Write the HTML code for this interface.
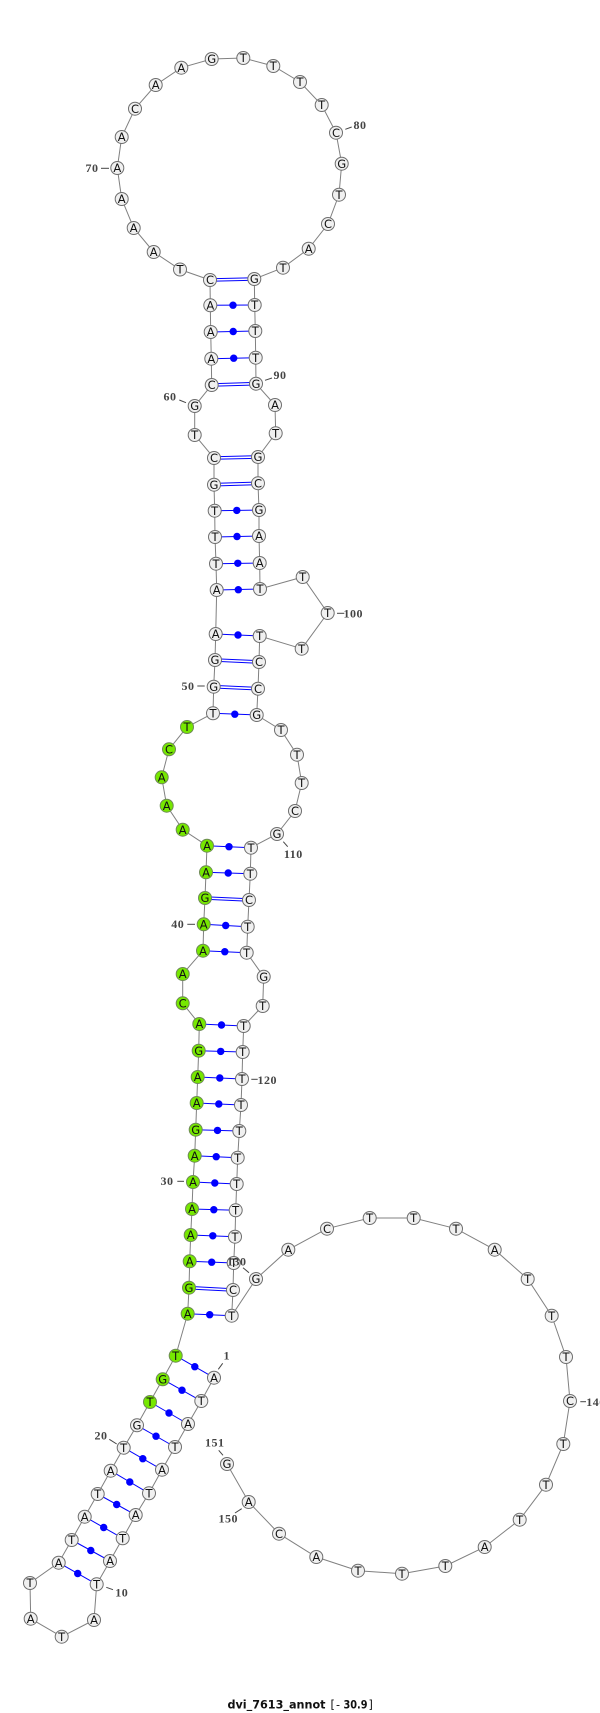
<!DOCTYPE html>
<html><head><meta charset="utf-8"><title>dvi_7613_annot</title>
<style>
html,body{margin:0;padding:0;background:#fff}
svg{display:block}
.b{fill:none;stroke:#808080;stroke-width:1}
.p line{stroke:#0000ff;stroke-width:1}
.p circle{fill:#0000ff}
.n circle{fill:#f0f0f0;stroke:#6e6e6e;stroke-width:1}
.n circle.g{fill:#76e800;stroke:#6e8a55}
.n text{font:11.5px "DejaVu Sans",sans-serif;text-anchor:middle;fill:#111}
.t line{stroke:#444;stroke-width:1}
.t text{font:bold 12px "Liberation Serif",serif;letter-spacing:.5px;text-anchor:middle;fill:#444}
</style></head><body>
<svg xmlns="http://www.w3.org/2000/svg" width="600" height="1713" viewBox="0 0 600 1713">
<rect width="600" height="1713" fill="#fff"/>
<polyline class="b" points="214,1377.7 201.3,1401 188,1424 175,1447 162,1469.7 149,1493.3 135.7,1515 122.7,1538.3 110,1561 96.7,1584.3 94,1620 61.7,1636.7 30.7,1618.7 30,1583 58.7,1562.7 71.7,1540 84.7,1516.7 97.7,1494 110.7,1470.7 123.7,1447.7 137,1425.3 150,1402 162.7,1379.3 175.7,1355.7 187.7,1313.7 189,1287.7 189.7,1261.3 190.7,1235 192,1209 193,1182 194.7,1155.7 195.7,1129.7 196.7,1103 197.7,1077 198.7,1050.7 199.3,1024 182.7,1003.3 182.7,974 203,950.7 203.7,924.3 205,898 206,872.3 207,845.7 182.7,829.7 166.7,805.7 161.7,777.3 169,749.3 187,727 213,713.3 213.7,686.7 215,660 215.7,634 216.7,590 216,563.7 215,537 214.7,510.7 214,484.7 214,458 194.7,435 194.7,406 211.7,385 211.3,358.7 210.7,332 210.3,305.3 210,280 180,269.5 153.7,252 133.7,228 121.7,199 117.3,168 121.7,137 135,108.7 155.7,85 181.3,67.7 211.7,59 243.3,58 273.3,66 300,82 321.7,105 336,132.7 341.7,163.7 339,194.7 328,224 308.7,248.7 283,267.7 254.3,279 254.7,305 255.3,331 255.7,357.7 256,383.7 275,405 275.7,433.3 258,457 258,483.3 259,510 259,536 259.7,563 260,589 302.7,577 327.7,613 301.7,648.7 259.7,636 259,662 258,688.7 256.7,715 281,730 297,754.7 301.7,783 295,811 277,834 251,847.7 250.3,873.7 249,900 247.7,926.7 246.7,952.7 263.7,976.7 262.7,1006 243.7,1026 242.7,1052 242,1079 241,1105 239.3,1131 237.7,1157.7 236.7,1184 235.7,1210.3 235,1236.7 233.7,1263 233,1290 231.7,1315.7 256,1279 288.3,1249.7 327,1228.7 369.7,1218 413.7,1218 456,1228.7 494.7,1249.7 527.7,1279 551.7,1315.7 566,1357 570,1401 563.3,1444 546,1484.7 519.7,1519.7 484.7,1547 445.3,1566 402,1573.7 358,1570.7 316.3,1557 279,1533.7 248.7,1502 227,1464"/>
<g class="p">
<line x1="214" y1="1377.7" x2="175.7" y2="1355.7"/><circle cx="194.8" cy="1366.7" r="3.7"/>
<line x1="201.3" y1="1401" x2="162.7" y2="1379.3"/><circle cx="182" cy="1390.2" r="3.7"/>
<line x1="188" y1="1424" x2="150" y2="1402"/><circle cx="169" cy="1413" r="3.7"/>
<line x1="175" y1="1447" x2="137" y2="1425.3"/><circle cx="156" cy="1436.2" r="3.7"/>
<line x1="162" y1="1469.7" x2="123.7" y2="1447.7"/><circle cx="142.8" cy="1458.7" r="3.7"/>
<line x1="149" y1="1493.3" x2="110.7" y2="1470.7"/><circle cx="129.8" cy="1482" r="3.7"/>
<line x1="135.7" y1="1515" x2="97.7" y2="1494"/><circle cx="116.7" cy="1504.5" r="3.7"/>
<line x1="122.7" y1="1538.3" x2="84.7" y2="1516.7"/><circle cx="103.7" cy="1527.5" r="3.7"/>
<line x1="110" y1="1561" x2="71.7" y2="1540"/><circle cx="90.8" cy="1550.5" r="3.7"/>
<line x1="96.7" y1="1584.3" x2="58.7" y2="1562.7"/><circle cx="77.7" cy="1573.5" r="3.7"/>
<line x1="187.7" y1="1313.7" x2="231.7" y2="1315.7"/><circle cx="209.7" cy="1314.7" r="3.7"/>
<line x1="189" y1="1286.4" x2="233" y2="1288.7"/><line x1="189" y1="1289" x2="233" y2="1291.3"/>
<line x1="189.7" y1="1261.3" x2="233.7" y2="1263"/><circle cx="211.7" cy="1262.2" r="3.7"/>
<line x1="190.7" y1="1235" x2="235" y2="1236.7"/><circle cx="212.8" cy="1235.8" r="3.7"/>
<line x1="192" y1="1209" x2="235.7" y2="1210.3"/><circle cx="213.8" cy="1209.7" r="3.7"/>
<line x1="193" y1="1182" x2="236.7" y2="1184"/><circle cx="214.8" cy="1183" r="3.7"/>
<line x1="194.7" y1="1155.7" x2="237.7" y2="1157.7"/><circle cx="216.2" cy="1156.7" r="3.7"/>
<line x1="195.7" y1="1129.7" x2="239.3" y2="1131"/><circle cx="217.5" cy="1130.4" r="3.7"/>
<line x1="196.7" y1="1103" x2="241" y2="1105"/><circle cx="218.8" cy="1104" r="3.7"/>
<line x1="197.7" y1="1077" x2="242" y2="1079"/><circle cx="219.8" cy="1078" r="3.7"/>
<line x1="198.7" y1="1050.7" x2="242.7" y2="1052"/><circle cx="220.7" cy="1051.4" r="3.7"/>
<line x1="199.3" y1="1024" x2="243.7" y2="1026"/><circle cx="221.5" cy="1025" r="3.7"/>
<line x1="203" y1="950.7" x2="246.7" y2="952.7"/><circle cx="224.8" cy="951.7" r="3.7"/>
<line x1="203.7" y1="924.3" x2="247.7" y2="926.7"/><circle cx="225.7" cy="925.5" r="3.7"/>
<line x1="205" y1="896.7" x2="249" y2="898.7"/><line x1="205" y1="899.3" x2="249" y2="901.3"/>
<line x1="206" y1="872.3" x2="250.3" y2="873.7"/><circle cx="228.2" cy="873" r="3.7"/>
<line x1="207" y1="845.7" x2="251" y2="847.7"/><circle cx="229" cy="846.7" r="3.7"/>
<line x1="213" y1="713.3" x2="256.7" y2="715"/><circle cx="234.8" cy="714.2" r="3.7"/>
<line x1="213.7" y1="685.4" x2="258" y2="687.4"/><line x1="213.7" y1="688" x2="258" y2="690"/>
<line x1="215" y1="658.7" x2="259" y2="660.7"/><line x1="215" y1="661.3" x2="259" y2="663.3"/>
<line x1="215.7" y1="634" x2="259.7" y2="636"/><circle cx="238" cy="635" r="3.7"/>
<line x1="216.7" y1="590" x2="260" y2="589"/><circle cx="238.3" cy="589.7" r="3.7"/>
<line x1="216" y1="563.7" x2="259.7" y2="563"/><circle cx="237.8" cy="563.3" r="3.7"/>
<line x1="215" y1="537" x2="259" y2="536"/><circle cx="237" cy="536.5" r="3.7"/>
<line x1="214.7" y1="510.7" x2="259" y2="510"/><circle cx="236.8" cy="510.4" r="3.7"/>
<line x1="214" y1="483.4" x2="258" y2="482"/><line x1="214" y1="486" x2="258" y2="484.6"/>
<line x1="214" y1="456.7" x2="258" y2="455.7"/><line x1="214" y1="459.3" x2="258" y2="458.3"/>
<line x1="211.7" y1="383.7" x2="256" y2="382.4"/><line x1="211.7" y1="386.3" x2="256" y2="385"/>
<line x1="211.3" y1="358.7" x2="255.7" y2="357.7"/><circle cx="233.7" cy="358.2" r="3.7"/>
<line x1="210.7" y1="332" x2="255.3" y2="331"/><circle cx="233.2" cy="331.5" r="3.7"/>
<line x1="210.3" y1="305.3" x2="254.7" y2="305"/><circle cx="233" cy="305.2" r="3.7"/>
<line x1="210" y1="278.7" x2="254.3" y2="277.7"/><line x1="210" y1="281.3" x2="254.3" y2="280.3"/>
</g>
<g class="t">
<line x1="222.7" y1="1363.3" x2="218.3" y2="1369.3"/><text x="226.7" y="1359.3">1</text>
<line x1="106.3" y1="1587.3" x2="113" y2="1589.7"/><text x="121.7" y="1596.3">10</text>
<line x1="109.3" y1="1439.3" x2="116.7" y2="1444"/><text x="101" y="1439.3">20</text>
<line x1="177.3" y1="1181.3" x2="184" y2="1181.3"/><text x="167" y="1185">30</text>
<line x1="187.3" y1="924.3" x2="195" y2="924.3"/><text x="177.7" y="928">40</text>
<line x1="197.3" y1="686" x2="204.7" y2="686"/><text x="188" y="690">50</text>
<line x1="179.3" y1="400" x2="186" y2="402.7"/><text x="170" y="400.7">60</text>
<line x1="101" y1="168.3" x2="109" y2="168.3"/><text x="92" y="172">70</text>
<line x1="345.3" y1="129.3" x2="351.7" y2="127"/><text x="360" y="129">80</text>
<line x1="265" y1="380.3" x2="272" y2="378"/><text x="280" y="379">90</text>
<line x1="337" y1="613.3" x2="344.3" y2="613.3"/><text x="353.3" y="617.3">100</text>
<line x1="283.3" y1="841.7" x2="287.7" y2="846.7"/><text x="293.3" y="858">110</text>
<line x1="251.3" y1="1079.3" x2="257.7" y2="1079.3"/><text x="267.3" y="1084">120</text>
<line x1="580.3" y1="1401.7" x2="586" y2="1401.7"/><text x="596" y="1406">140</text>
<line x1="235" y1="1513" x2="241.7" y2="1508.7"/><text x="228.3" y="1522.3">150</text>
<line x1="218.7" y1="1450.3" x2="223" y2="1455.3"/><text x="214.7" y="1446.3">151</text>
</g>
<g class="n">
<circle cx="214" cy="1377.7" r="6.5"/><text x="214" y="1381.8">A</text>
<circle cx="201.3" cy="1401" r="6.5"/><text x="201.3" y="1405.1">T</text>
<circle cx="188" cy="1424" r="6.5"/><text x="188" y="1428.1">A</text>
<circle cx="175" cy="1447" r="6.5"/><text x="175" y="1451.1">T</text>
<circle cx="162" cy="1469.7" r="6.5"/><text x="162" y="1473.8">A</text>
<circle cx="149" cy="1493.3" r="6.5"/><text x="149" y="1497.4">T</text>
<circle cx="135.7" cy="1515" r="6.5"/><text x="135.7" y="1519.1">A</text>
<circle cx="122.7" cy="1538.3" r="6.5"/><text x="122.7" y="1542.4">T</text>
<circle cx="110" cy="1561" r="6.5"/><text x="110" y="1565.1">A</text>
<circle cx="96.7" cy="1584.3" r="6.5"/><text x="96.7" y="1588.4">T</text>
<circle cx="94" cy="1620" r="6.5"/><text x="94" y="1624.1">A</text>
<circle cx="61.7" cy="1636.7" r="6.5"/><text x="61.7" y="1640.8">T</text>
<circle cx="30.7" cy="1618.7" r="6.5"/><text x="30.7" y="1622.8">A</text>
<circle cx="30" cy="1583" r="6.5"/><text x="30" y="1587.1">T</text>
<circle cx="58.7" cy="1562.7" r="6.5"/><text x="58.7" y="1566.8">A</text>
<circle cx="71.7" cy="1540" r="6.5"/><text x="71.7" y="1544.1">T</text>
<circle cx="84.7" cy="1516.7" r="6.5"/><text x="84.7" y="1520.8">A</text>
<circle cx="97.7" cy="1494" r="6.5"/><text x="97.7" y="1498.1">T</text>
<circle cx="110.7" cy="1470.7" r="6.5"/><text x="110.7" y="1474.8">A</text>
<circle cx="123.7" cy="1447.7" r="6.5"/><text x="123.7" y="1451.8">T</text>
<circle cx="137" cy="1425.3" r="6.5"/><text x="137" y="1429.4">G</text>
<circle class="g" cx="150" cy="1402" r="6.5"/><text x="150" y="1406.1">T</text>
<circle class="g" cx="162.7" cy="1379.3" r="6.5"/><text x="162.7" y="1383.4">G</text>
<circle class="g" cx="175.7" cy="1355.7" r="6.5"/><text x="175.7" y="1359.8">T</text>
<circle class="g" cx="187.7" cy="1313.7" r="6.5"/><text x="187.7" y="1317.8">A</text>
<circle class="g" cx="189" cy="1287.7" r="6.5"/><text x="189" y="1291.8">G</text>
<circle class="g" cx="189.7" cy="1261.3" r="6.5"/><text x="189.7" y="1265.4">A</text>
<circle class="g" cx="190.7" cy="1235" r="6.5"/><text x="190.7" y="1239.1">A</text>
<circle class="g" cx="192" cy="1209" r="6.5"/><text x="192" y="1213.1">A</text>
<circle class="g" cx="193" cy="1182" r="6.5"/><text x="193" y="1186.1">A</text>
<circle class="g" cx="194.7" cy="1155.7" r="6.5"/><text x="194.7" y="1159.8">A</text>
<circle class="g" cx="195.7" cy="1129.7" r="6.5"/><text x="195.7" y="1133.8">G</text>
<circle class="g" cx="196.7" cy="1103" r="6.5"/><text x="196.7" y="1107.1">A</text>
<circle class="g" cx="197.7" cy="1077" r="6.5"/><text x="197.7" y="1081.1">A</text>
<circle class="g" cx="198.7" cy="1050.7" r="6.5"/><text x="198.7" y="1054.8">G</text>
<circle class="g" cx="199.3" cy="1024" r="6.5"/><text x="199.3" y="1028.1">A</text>
<circle class="g" cx="182.7" cy="1003.3" r="6.5"/><text x="182.7" y="1007.4">C</text>
<circle class="g" cx="182.7" cy="974" r="6.5"/><text x="182.7" y="978.1">A</text>
<circle class="g" cx="203" cy="950.7" r="6.5"/><text x="203" y="954.8">A</text>
<circle class="g" cx="203.7" cy="924.3" r="6.5"/><text x="203.7" y="928.4">A</text>
<circle class="g" cx="205" cy="898" r="6.5"/><text x="205" y="902.1">G</text>
<circle class="g" cx="206" cy="872.3" r="6.5"/><text x="206" y="876.4">A</text>
<circle class="g" cx="207" cy="845.7" r="6.5"/><text x="207" y="849.8">A</text>
<circle class="g" cx="182.7" cy="829.7" r="6.5"/><text x="182.7" y="833.8">A</text>
<circle class="g" cx="166.7" cy="805.7" r="6.5"/><text x="166.7" y="809.8">A</text>
<circle class="g" cx="161.7" cy="777.3" r="6.5"/><text x="161.7" y="781.4">A</text>
<circle class="g" cx="169" cy="749.3" r="6.5"/><text x="169" y="753.4">C</text>
<circle class="g" cx="187" cy="727" r="6.5"/><text x="187" y="731.1">T</text>
<circle cx="213" cy="713.3" r="6.5"/><text x="213" y="717.4">T</text>
<circle cx="213.7" cy="686.7" r="6.5"/><text x="213.7" y="690.8">G</text>
<circle cx="215" cy="660" r="6.5"/><text x="215" y="664.1">G</text>
<circle cx="215.7" cy="634" r="6.5"/><text x="215.7" y="638.1">A</text>
<circle cx="216.7" cy="590" r="6.5"/><text x="216.7" y="594.1">A</text>
<circle cx="216" cy="563.7" r="6.5"/><text x="216" y="567.8">T</text>
<circle cx="215" cy="537" r="6.5"/><text x="215" y="541.1">T</text>
<circle cx="214.7" cy="510.7" r="6.5"/><text x="214.7" y="514.8">T</text>
<circle cx="214" cy="484.7" r="6.5"/><text x="214" y="488.8">G</text>
<circle cx="214" cy="458" r="6.5"/><text x="214" y="462.1">C</text>
<circle cx="194.7" cy="435" r="6.5"/><text x="194.7" y="439.1">T</text>
<circle cx="194.7" cy="406" r="6.5"/><text x="194.7" y="410.1">G</text>
<circle cx="211.7" cy="385" r="6.5"/><text x="211.7" y="389.1">C</text>
<circle cx="211.3" cy="358.7" r="6.5"/><text x="211.3" y="362.8">A</text>
<circle cx="210.7" cy="332" r="6.5"/><text x="210.7" y="336.1">A</text>
<circle cx="210.3" cy="305.3" r="6.5"/><text x="210.3" y="309.4">A</text>
<circle cx="210" cy="280" r="6.5"/><text x="210" y="284.1">C</text>
<circle cx="180" cy="269.5" r="6.5"/><text x="180" y="273.6">T</text>
<circle cx="153.7" cy="252" r="6.5"/><text x="153.7" y="256.1">A</text>
<circle cx="133.7" cy="228" r="6.5"/><text x="133.7" y="232.1">A</text>
<circle cx="121.7" cy="199" r="6.5"/><text x="121.7" y="203.1">A</text>
<circle cx="117.3" cy="168" r="6.5"/><text x="117.3" y="172.1">A</text>
<circle cx="121.7" cy="137" r="6.5"/><text x="121.7" y="141.1">A</text>
<circle cx="135" cy="108.7" r="6.5"/><text x="135" y="112.8">C</text>
<circle cx="155.7" cy="85" r="6.5"/><text x="155.7" y="89.1">A</text>
<circle cx="181.3" cy="67.7" r="6.5"/><text x="181.3" y="71.8">A</text>
<circle cx="211.7" cy="59" r="6.5"/><text x="211.7" y="63.1">G</text>
<circle cx="243.3" cy="58" r="6.5"/><text x="243.3" y="62.1">T</text>
<circle cx="273.3" cy="66" r="6.5"/><text x="273.3" y="70.1">T</text>
<circle cx="300" cy="82" r="6.5"/><text x="300" y="86.1">T</text>
<circle cx="321.7" cy="105" r="6.5"/><text x="321.7" y="109.1">T</text>
<circle cx="336" cy="132.7" r="6.5"/><text x="336" y="136.8">C</text>
<circle cx="341.7" cy="163.7" r="6.5"/><text x="341.7" y="167.8">G</text>
<circle cx="339" cy="194.7" r="6.5"/><text x="339" y="198.8">T</text>
<circle cx="328" cy="224" r="6.5"/><text x="328" y="228.1">C</text>
<circle cx="308.7" cy="248.7" r="6.5"/><text x="308.7" y="252.8">A</text>
<circle cx="283" cy="267.7" r="6.5"/><text x="283" y="271.8">T</text>
<circle cx="254.3" cy="279" r="6.5"/><text x="254.3" y="283.1">G</text>
<circle cx="254.7" cy="305" r="6.5"/><text x="254.7" y="309.1">T</text>
<circle cx="255.3" cy="331" r="6.5"/><text x="255.3" y="335.1">T</text>
<circle cx="255.7" cy="357.7" r="6.5"/><text x="255.7" y="361.8">T</text>
<circle cx="256" cy="383.7" r="6.5"/><text x="256" y="387.8">G</text>
<circle cx="275" cy="405" r="6.5"/><text x="275" y="409.1">A</text>
<circle cx="275.7" cy="433.3" r="6.5"/><text x="275.7" y="437.4">T</text>
<circle cx="258" cy="457" r="6.5"/><text x="258" y="461.1">G</text>
<circle cx="258" cy="483.3" r="6.5"/><text x="258" y="487.4">C</text>
<circle cx="259" cy="510" r="6.5"/><text x="259" y="514.1">G</text>
<circle cx="259" cy="536" r="6.5"/><text x="259" y="540.1">A</text>
<circle cx="259.7" cy="563" r="6.5"/><text x="259.7" y="567.1">A</text>
<circle cx="260" cy="589" r="6.5"/><text x="260" y="593.1">T</text>
<circle cx="302.7" cy="577" r="6.5"/><text x="302.7" y="581.1">T</text>
<circle cx="327.7" cy="613" r="6.5"/><text x="327.7" y="617.1">T</text>
<circle cx="301.7" cy="648.7" r="6.5"/><text x="301.7" y="652.8">T</text>
<circle cx="259.7" cy="636" r="6.5"/><text x="259.7" y="640.1">T</text>
<circle cx="259" cy="662" r="6.5"/><text x="259" y="666.1">C</text>
<circle cx="258" cy="688.7" r="6.5"/><text x="258" y="692.8">C</text>
<circle cx="256.7" cy="715" r="6.5"/><text x="256.7" y="719.1">G</text>
<circle cx="281" cy="730" r="6.5"/><text x="281" y="734.1">T</text>
<circle cx="297" cy="754.7" r="6.5"/><text x="297" y="758.8">T</text>
<circle cx="301.7" cy="783" r="6.5"/><text x="301.7" y="787.1">T</text>
<circle cx="295" cy="811" r="6.5"/><text x="295" y="815.1">C</text>
<circle cx="277" cy="834" r="6.5"/><text x="277" y="838.1">G</text>
<circle cx="251" cy="847.7" r="6.5"/><text x="251" y="851.8">T</text>
<circle cx="250.3" cy="873.7" r="6.5"/><text x="250.3" y="877.8">T</text>
<circle cx="249" cy="900" r="6.5"/><text x="249" y="904.1">C</text>
<circle cx="247.7" cy="926.7" r="6.5"/><text x="247.7" y="930.8">T</text>
<circle cx="246.7" cy="952.7" r="6.5"/><text x="246.7" y="956.8">T</text>
<circle cx="263.7" cy="976.7" r="6.5"/><text x="263.7" y="980.8">G</text>
<circle cx="262.7" cy="1006" r="6.5"/><text x="262.7" y="1010.1">T</text>
<circle cx="243.7" cy="1026" r="6.5"/><text x="243.7" y="1030.1">T</text>
<circle cx="242.7" cy="1052" r="6.5"/><text x="242.7" y="1056.1">T</text>
<circle cx="242" cy="1079" r="6.5"/><text x="242" y="1083.1">T</text>
<circle cx="241" cy="1105" r="6.5"/><text x="241" y="1109.1">T</text>
<circle cx="239.3" cy="1131" r="6.5"/><text x="239.3" y="1135.1">T</text>
<circle cx="237.7" cy="1157.7" r="6.5"/><text x="237.7" y="1161.8">T</text>
<circle cx="236.7" cy="1184" r="6.5"/><text x="236.7" y="1188.1">T</text>
<circle cx="235.7" cy="1210.3" r="6.5"/><text x="235.7" y="1214.4">T</text>
<circle cx="235" cy="1236.7" r="6.5"/><text x="235" y="1240.8">T</text>
<circle cx="233.7" cy="1263" r="6.5"/><text x="233.7" y="1267.1">T</text>
<circle cx="233" cy="1290" r="6.5"/><text x="233" y="1294.1">C</text>
<circle cx="231.7" cy="1315.7" r="6.5"/><text x="231.7" y="1319.8">T</text>
<circle cx="256" cy="1279" r="6.5"/><text x="256" y="1283.1">G</text>
<circle cx="288.3" cy="1249.7" r="6.5"/><text x="288.3" y="1253.8">A</text>
<circle cx="327" cy="1228.7" r="6.5"/><text x="327" y="1232.8">C</text>
<circle cx="369.7" cy="1218" r="6.5"/><text x="369.7" y="1222.1">T</text>
<circle cx="413.7" cy="1218" r="6.5"/><text x="413.7" y="1222.1">T</text>
<circle cx="456" cy="1228.7" r="6.5"/><text x="456" y="1232.8">T</text>
<circle cx="494.7" cy="1249.7" r="6.5"/><text x="494.7" y="1253.8">A</text>
<circle cx="527.7" cy="1279" r="6.5"/><text x="527.7" y="1283.1">T</text>
<circle cx="551.7" cy="1315.7" r="6.5"/><text x="551.7" y="1319.8">T</text>
<circle cx="566" cy="1357" r="6.5"/><text x="566" y="1361.1">T</text>
<circle cx="570" cy="1401" r="6.5"/><text x="570" y="1405.1">C</text>
<circle cx="563.3" cy="1444" r="6.5"/><text x="563.3" y="1448.1">T</text>
<circle cx="546" cy="1484.7" r="6.5"/><text x="546" y="1488.8">T</text>
<circle cx="519.7" cy="1519.7" r="6.5"/><text x="519.7" y="1523.8">T</text>
<circle cx="484.7" cy="1547" r="6.5"/><text x="484.7" y="1551.1">A</text>
<circle cx="445.3" cy="1566" r="6.5"/><text x="445.3" y="1570.1">T</text>
<circle cx="402" cy="1573.7" r="6.5"/><text x="402" y="1577.8">T</text>
<circle cx="358" cy="1570.7" r="6.5"/><text x="358" y="1574.8">T</text>
<circle cx="316.3" cy="1557" r="6.5"/><text x="316.3" y="1561.1">A</text>
<circle cx="279" cy="1533.7" r="6.5"/><text x="279" y="1537.8">C</text>
<circle cx="248.7" cy="1502" r="6.5"/><text x="248.7" y="1506.1">A</text>
<circle cx="227" cy="1464" r="6.5"/><text x="227" y="1468.1">G</text>
</g>
<g class="t"><text x="236.7" y="1265.7" fill="#444">130</text><line x1="243" y1="1267.7" x2="249" y2="1272.7"/></g>
<text x="227.5" y="1708.5" font-family="DejaVu Sans, sans-serif" font-size="11.2" font-weight="bold" fill="#111" textLength="98" lengthAdjust="spacingAndGlyphs">dvi_7613_annot</text>
<text y="1708.5" font-family="DejaVu Sans, sans-serif" font-size="11.2" fill="#111"><tspan x="330.5">[</tspan><tspan x="336">-</tspan><tspan x="343.5" font-weight="bold" textLength="24" lengthAdjust="spacingAndGlyphs">30.9</tspan><tspan x="368.5">]</tspan></text>
</svg>
</body></html>
